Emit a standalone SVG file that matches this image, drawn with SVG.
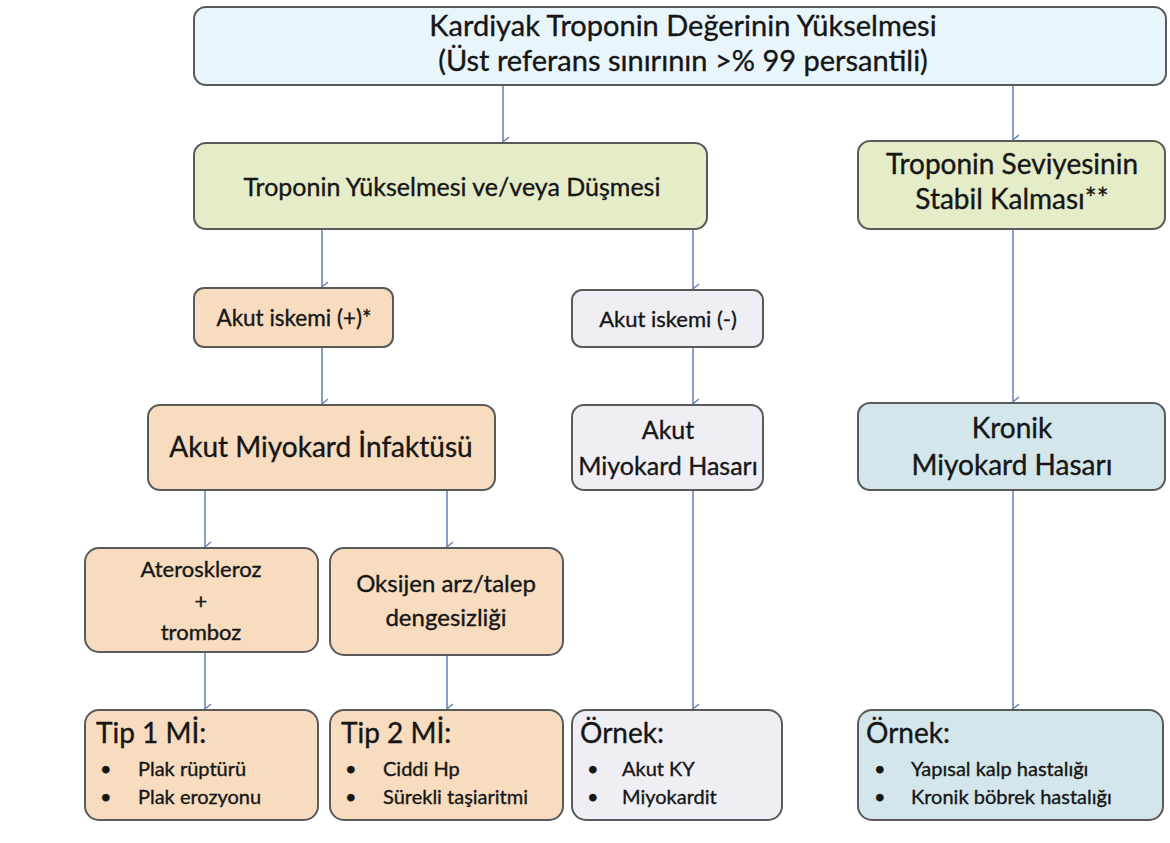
<svg xmlns="http://www.w3.org/2000/svg" width="1170" height="843" viewBox="0 0 1170 843">
<defs>
<style>
.box{stroke:#5a5a5a;stroke-width:2}
.blue{fill:#e8f5fb}
.green{fill:#e5ecc8}
.peach{fill:#f7dcbf}
.lav{fill:#eeeef4}
.teal{fill:#d3e6ec}
text{font-family:Lato,"Open Sans","Liberation Sans",sans-serif;fill:#161616;stroke:#161616;stroke-width:0.35}
.c{text-anchor:middle}
.con line{stroke:#6d87b4;stroke-width:1.6;marker-end:url(#ah)}
</style>
<marker id="ah" viewBox="0 0 12 12" refX="6" refY="11" markerWidth="12" markerHeight="12" markerUnits="userSpaceOnUse" orient="auto">
<path d="M1,5 L6,11 L11,5" fill="none" stroke="#6d87b4" stroke-width="1.5"/>
</marker>
</defs>
<rect width="1170" height="843" fill="#ffffff"/>
<g class="con" id="connectors">
<line x1="503" y1="86" x2="503" y2="142"/>
<line x1="1013" y1="86" x2="1013" y2="140"/>
<line x1="322" y1="229" x2="322" y2="287"/>
<line x1="693" y1="229" x2="693" y2="289"/>
<line x1="322" y1="348" x2="322" y2="404"/>
<line x1="693" y1="348" x2="693" y2="404"/>
<line x1="1013" y1="229" x2="1013" y2="402"/>
<line x1="205" y1="491" x2="205" y2="547"/>
<line x1="447" y1="491" x2="447" y2="547"/>
<line x1="205" y1="653" x2="205" y2="709"/>
<line x1="447" y1="656" x2="447" y2="709"/>
<line x1="693" y1="491" x2="693" y2="709"/>
<line x1="1013" y1="491" x2="1013" y2="709"/>
</g>
<g id="n1"><rect class="box blue" x="194" y="7" width="972" height="78" rx="12"/>
<text class="c" x="683" y="36" font-size="29">Kardiyak Troponin Değerinin Yükselmesi</text>
<text class="c" x="683" y="71" font-size="29">(Üst referans sınırının &gt;% 99 persantili)</text></g>
<g id="n2"><rect class="box green" x="194" y="143" width="513" height="86" rx="12"/>
<text class="c" x="452" y="196" font-size="25">Troponin Yükselmesi ve/veya Düşmesi</text></g>
<g id="n3"><rect class="box green" x="858" y="141" width="307" height="88" rx="12"/>
<text class="c" x="1012" y="174" font-size="28">Troponin Seviyesinin</text>
<text class="c" x="1012" y="209" font-size="28">Stabil Kalması**</text></g>
<g id="n4"><rect class="box peach" x="194" y="288" width="199" height="59" rx="10"/>
<text class="c" x="294" y="326" font-size="22.5">Akut iskemi (+)*</text></g>
<g id="n5"><rect class="box lav" x="572" y="290" width="191" height="57" rx="10"/>
<text class="c" x="668" y="327" font-size="22">Akut iskemi (-)</text></g>
<g id="n6"><rect class="box peach" x="148" y="405" width="347" height="85" rx="12"/>
<text class="c" x="321" y="457" font-size="28">Akut Miyokard İnfaktüsü</text></g>
<g id="n7"><rect class="box lav" x="572" y="405" width="191" height="85" rx="12"/>
<text class="c" x="668" y="439" font-size="25">Akut</text>
<text class="c" x="668" y="475" font-size="25">Miyokard Hasarı</text></g>
<g id="n8"><rect class="box teal" x="858" y="403" width="307" height="87" rx="12"/>
<text class="c" x="1012" y="438" font-size="28">Kronik</text>
<text class="c" x="1012" y="475" font-size="28">Miyokard Hasarı</text></g>
<g id="n9"><rect class="box peach" x="85" y="548" width="233" height="104" rx="14"/>
<text class="c" x="201" y="577" font-size="22">Ateroskleroz</text>
<text class="c" x="201" y="609" font-size="22">+</text>
<text class="c" x="201" y="640" font-size="22">tromboz</text></g>
<g id="n10"><rect class="box peach" x="330" y="548" width="233" height="107" rx="14"/>
<text class="c" x="446" y="592" font-size="24">Oksijen arz/talep</text>
<text class="c" x="446" y="626" font-size="24">dengesizliği</text></g>
<g id="n11"><rect class="box peach" x="85" y="710" width="233" height="110" rx="14"/>
<text x="96" y="743" font-size="28">Tip 1 Mİ:</text>
<text x="100" y="776" font-size="20">•</text><text x="138" y="776" font-size="20">Plak rüptürü</text>
<text x="100" y="804" font-size="20">•</text><text x="138" y="804" font-size="20">Plak erozyonu</text></g>
<g id="n12"><rect class="box peach" x="330" y="710" width="233" height="110" rx="14"/>
<text x="341" y="743" font-size="28">Tip 2 Mİ:</text>
<text x="345" y="776" font-size="20">•</text><text x="383" y="776" font-size="20">Ciddi Hp</text>
<text x="345" y="804" font-size="20">•</text><text x="383" y="804" font-size="20">Sürekli taşiaritmi</text></g>
<g id="n13"><rect class="box lav" x="572" y="710" width="210" height="110" rx="14"/>
<text x="580" y="743" font-size="28">Örnek:</text>
<text x="587" y="776" font-size="20">•</text><text x="622" y="776" font-size="20">Akut KY</text>
<text x="587" y="804" font-size="20">•</text><text x="622" y="804" font-size="20">Miyokardit</text></g>
<g id="n14"><rect class="box teal" x="858" y="710" width="305" height="110" rx="14"/>
<text x="866" y="743" font-size="28">Örnek:</text>
<text x="874" y="776" font-size="20">•</text><text x="911" y="776" font-size="20">Yapısal kalp hastalığı</text>
<text x="874" y="804" font-size="20">•</text><text x="911" y="804" font-size="20">Kronik böbrek hastalığı</text></g>
</svg>
